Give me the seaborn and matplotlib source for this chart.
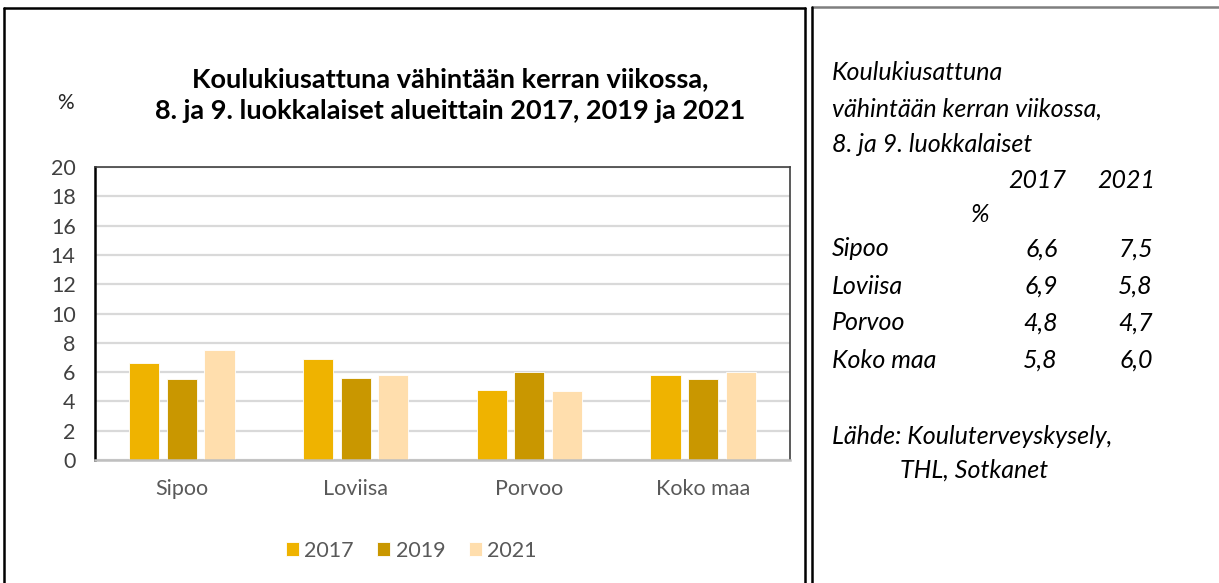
"""
Koulukiusattuna vahintaan kerran viikossa - grouped bar chart with side table
"""
import matplotlib.pyplot as plt
import pandas as pd
import seaborn as sns
from matplotlib.lines import Line2D

sns.set_theme(style="white")
plt.rcParams["font.family"] = ["Lato", "DejaVu Sans"]

CATEGORIES = ["Sipoo", "Loviisa", "Porvoo", "Koko maa"]
YEARS = ["2017", "2019", "2021"]
VALUES_2017 = [6.6, 6.9, 4.8, 5.8]
VALUES_2019 = [5.5, 5.6, 6.0, 5.5]
VALUES_2021 = [7.5, 5.8, 4.7, 6.0]
COLORS = ["#EFB300", "#C99700", "#FFDEAD"]
Y_TICKS = list(range(0, 21, 2))

TITLE = "Koulukiusattuna vähintään kerran viikossa,\n8. ja 9. luokkalaiset alueittain 2017, 2019 ja 2021"
SIDE_TITLE = ["Koulukiusattuna", "vähintään kerran viikossa,", "8. ja 9. luokkalaiset"]
SOURCE = ["Lähde: Kouluterveyskysely,", "THL, Sotkanet"]

W, H = 1219, 583


def build_frame():
    """long dataframe for seaborn"""
    rows = []
    for year, vals in zip(YEARS, [VALUES_2017, VALUES_2019, VALUES_2021]):
        for cat, v in zip(CATEGORIES, vals):
            rows.append({"alue": cat, "vuosi": year, "arvo": v})
    return pd.DataFrame(rows)


def fx(px):
    return px / W


def fy(py):
    return 1 - py / H


def draw_borders(fig):
    """frames around the chart and the table"""
    lines = [
        ([4, 805], [8, 8], "black"), ([4, 4], [8, 583], "black"),
        ([805, 805], [8, 583], "black"),
        ([812, 1219], [7, 7], "#7f7f7f"), ([812, 812], [7, 583], "black"),
    ]
    for xs, ys, c in lines:
        fig.add_artist(Line2D([fx(x) for x in xs], [fy(y) for y in ys],
                              color=c, lw=1.8, transform=fig.transFigure))


def draw_chart(fig, df):
    ax = fig.add_axes([fx(95), fy(460), fx(790) - fx(95), fy(167) - fy(460)])
    sns.barplot(data=df, x="alue", y="arvo", hue="vuosi", hue_order=YEARS,
                palette=COLORS, width=0.65, gap=0.2, ax=ax,
                edgecolor="white", linewidth=0.6, saturation=1, errorbar=None)
    ax.set_ylim(0, 20)
    ax.set_yticks(Y_TICKS)
    ax.set_xlim(-0.5, len(CATEGORIES) - 0.5)
    ax.yaxis.grid(True, color="#d9d9d9", lw=1.6)
    ax.set_axisbelow(True)
    ax.set_xlabel("")
    ax.set_ylabel("")
    ax.tick_params(axis="y", labelsize=15.5, colors="#404040", pad=14, length=0)
    ax.tick_params(axis="x", labelsize=15.5, colors="#595959", pad=14, length=0)
    for side in ["top", "right"]:
        ax.spines[side].set_color("#404040")
        ax.spines[side].set_linewidth(1.2)
    ax.spines["left"].set_color("black")
    ax.spines["left"].set_linewidth(1.8)
    ax.spines["bottom"].set_color("#bfbfbf")
    ax.spines["bottom"].set_linewidth(1.8)
    ax.legend(loc="center", bbox_to_anchor=(0.455, -0.31), ncol=3, frameon=False,
              fontsize=15.5, handlelength=0.6, handleheight=0.6, handletextpad=0.25,
              columnspacing=1.1, labelcolor="#595959")
    fig.text(fx(450), fy(95), TITLE, ha="center", va="center", fontsize=19.5,
             fontweight="bold", color="black", linespacing=1.35)
    fig.text(fx(65), fy(103), "%", ha="center", va="center", fontsize=15)


def draw_table(fig):
    kw = dict(fontsize=18, style="italic", color="black", va="center")
    for text, y in zip(SIDE_TITLE, [73, 109, 145]):
        fig.text(fx(832), fy(y), text, ha="left", **kw)
    fig.text(fx(1066), fy(180), YEARS[0], ha="right", **kw)
    fig.text(fx(1155), fy(180), YEARS[2], ha="right", **kw)
    fig.text(fx(980), fy(214), "%", ha="center", **kw)
    for i, cat in enumerate(CATEGORIES):
        y = 249 + i * 37
        fig.text(fx(832), fy(y), cat, ha="left", **kw)
        fig.text(fx(1058), fy(y), f"{VALUES_2017[i]:.1f}".replace(".", ","), ha="right", **kw)
        fig.text(fx(1153), fy(y), f"{VALUES_2021[i]:.1f}".replace(".", ","), ha="right", **kw)
    fig.text(fx(832), fy(437), SOURCE[0], ha="left", **kw)
    fig.text(fx(900), fy(470), SOURCE[1], ha="left", **kw)


fig = plt.figure(figsize=(W / 100, H / 100), dpi=100)
draw_borders(fig)
draw_chart(fig, build_frame())
draw_table(fig)
fig.savefig("out.png", dpi=100)
